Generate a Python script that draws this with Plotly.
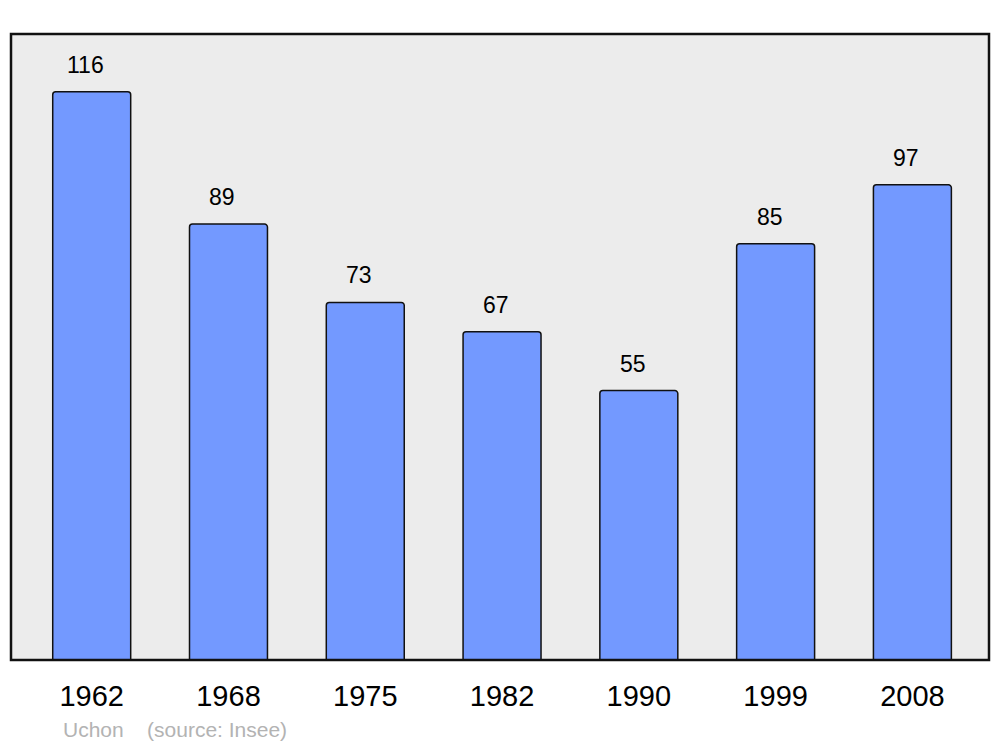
import plotly.graph_objects as go

# données
annees = ["1962", "1968", "1975", "1982", "1990", "1999", "2008"]
population = [116, 89, 73, 67, 55, 85, 97]
commune = "Uchon"
source = "(source: Insee)"

fig = go.Figure()
fig.add_trace(go.Bar(
    x=annees,
    y=population,
    width=0.57,
    marker=dict(color="#7399ff", line=dict(color="#111111", width=1.5), cornerradius=3),
    hoverinfo="x+y",
))

# étiquettes de valeurs au-dessus des barres
for i, v in enumerate(population):
    fig.add_annotation(x=i, y=v, text=str(v), showarrow=False,
                       yanchor="bottom", yshift=12, xshift=-6,
                       font=dict(family="Liberation Sans, Arial", size=23, color="black"))

fig.add_annotation(xref="paper", yref="paper", x=0.051, y=-0.089,
                   xanchor="left", yanchor="top", showarrow=False,
                   text=commune + "&nbsp;&nbsp;&nbsp;&nbsp;" + source,
                   font=dict(family="Liberation Sans, Arial", size=21, color="#b3b3b3"))

# cadre
fig.add_shape(type="rect", xref="paper", yref="paper", x0=0, x1=1, y0=0, y1=1,
              line=dict(color="#111111", width=2.5), layer="above")

fig.update_layout(
    width=1000, height=747,
    margin=dict(l=11, r=11, t=34, b=87),
    paper_bgcolor="white",
    plot_bgcolor="#ececec",
    showlegend=False,
    bargap=0.43,
    xaxis=dict(type="category", range=[-0.59, 6.56], showgrid=False, zeroline=False,
               ticks="", ticklabelstandoff=16,
               tickfont=dict(family="Liberation Sans, Arial", size=29, color="black")),
    yaxis=dict(range=[0, 127.8], showgrid=False, zeroline=False, showticklabels=False),
)

fig.write_html("out.html", config={"displayModeBar": False},
               post_script="document.body.style.margin='0';")
